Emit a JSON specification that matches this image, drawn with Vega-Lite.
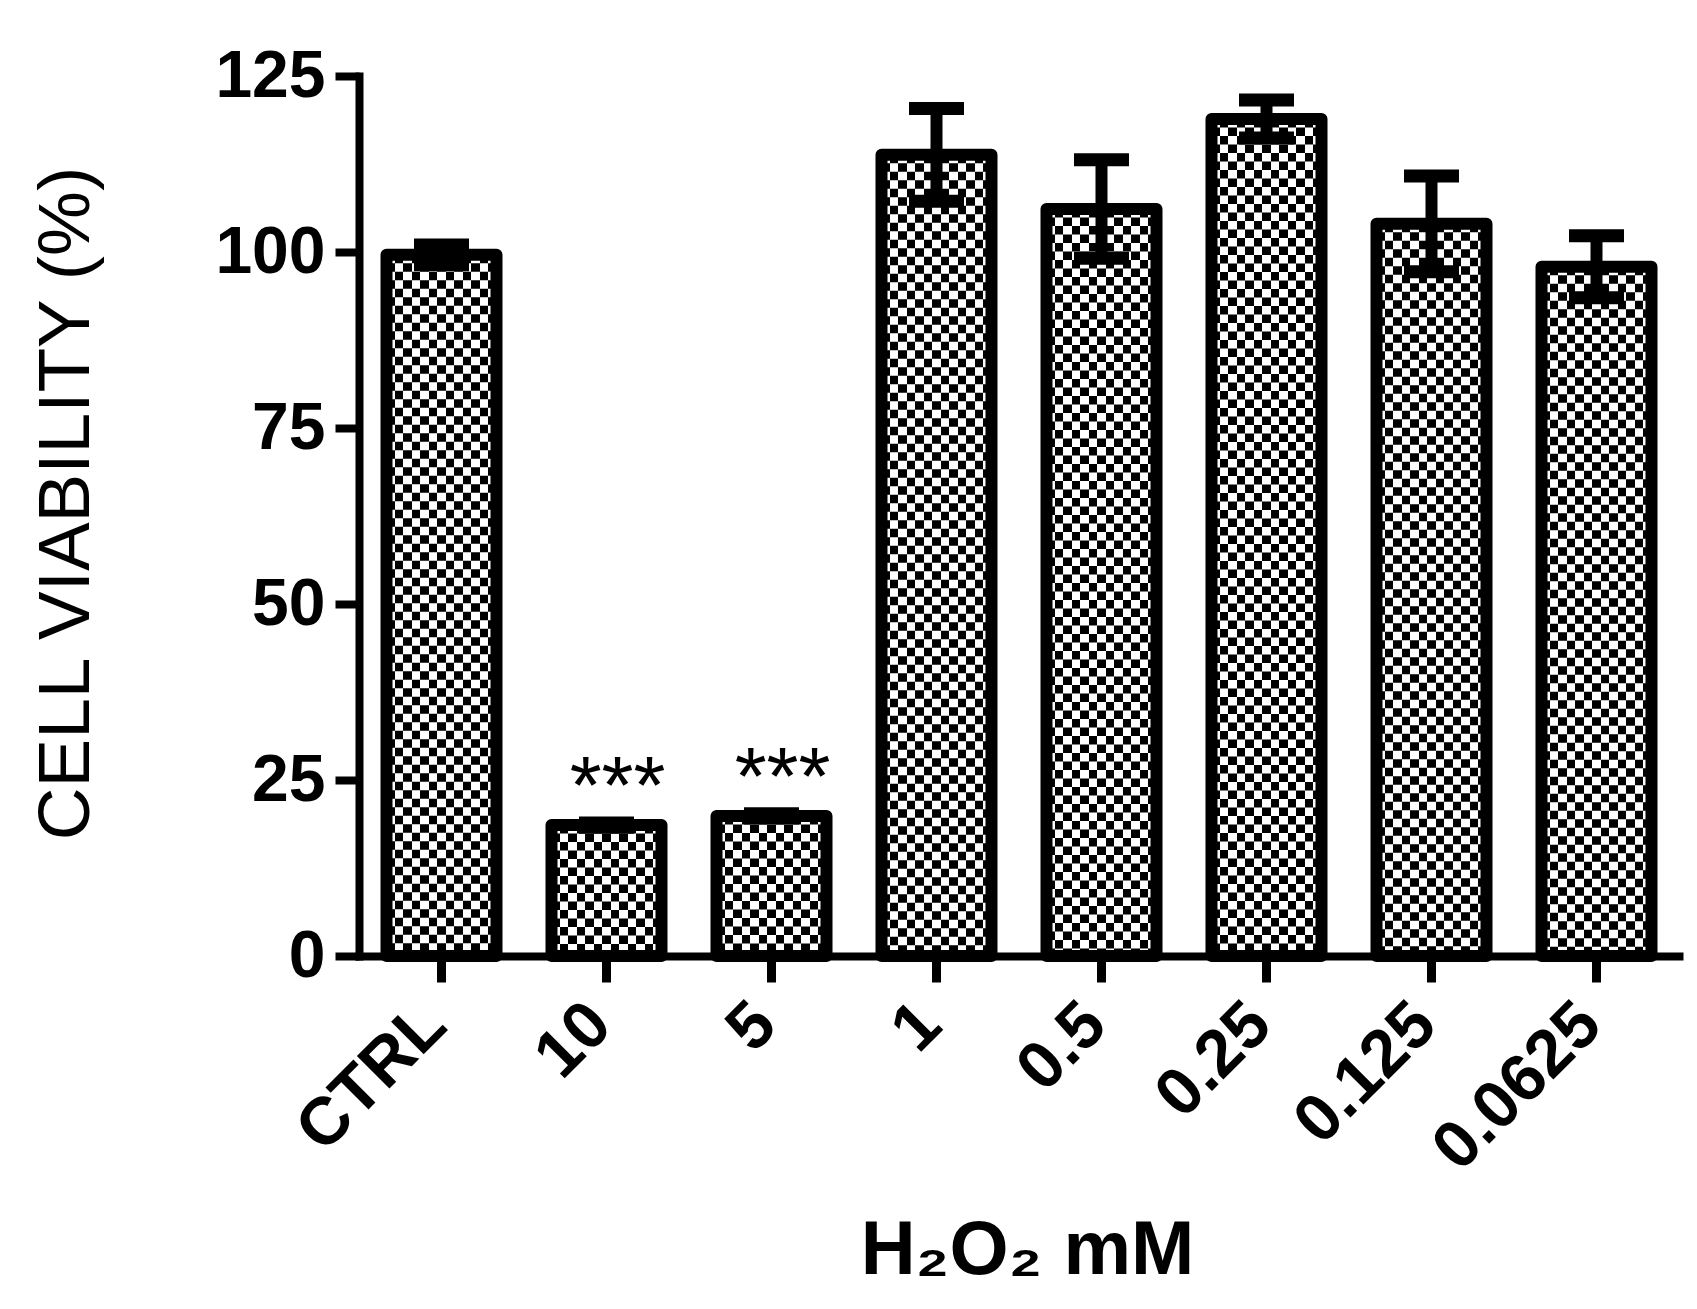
{
  "$schema": "https://vega.github.io/schema/vega-lite/v6.json",
  "autosize": {"type": "none"},
  "padding": {"left": 359, "top": 76, "right": 18, "bottom": 353},
  "width": 1320,
  "height": 880,
  "background": "white",
  "config": {
    "font": "Liberation Sans",
    "view": {"stroke": null},
    "axis": {"domainColor": "black", "tickColor": "black", "labelColor": "black", "titleColor": "black", "grid": false, "domainCap": "square"}
  },
  "data": {
    "values": [
      {"dose": "CTRL", "mean": 99.6, "lo": 98.2, "hi": 101.0, "sig": ""},
      {"dose": "10", "mean": 18.6, "lo": 18.3, "hi": 18.9, "sig": "***"},
      {"dose": "5", "mean": 19.9, "lo": 19.6, "hi": 20.2, "sig": "***"},
      {"dose": "1", "mean": 113.8, "lo": 107.2, "hi": 120.4, "sig": ""},
      {"dose": "0.5", "mean": 106.1, "lo": 99.1, "hi": 113.1, "sig": ""},
      {"dose": "0.25", "mean": 118.9, "lo": 116.2, "hi": 121.6, "sig": ""},
      {"dose": "0.125", "mean": 104.0, "lo": 97.2, "hi": 110.8, "sig": ""},
      {"dose": "0.0625", "mean": 97.9, "lo": 93.5, "hi": 102.3, "sig": ""}
    ]
  },
  "encoding": {
    "x": {
      "field": "dose",
      "type": "nominal",
      "sort": null,
      "scale": {"paddingInner": 0.3333333, "paddingOuter": 0.1666667},
      "axis": {
        "title": "H₂O₂ mM",
        "labelAngle": -45,
        "labelAlign": "right",
        "labelBaseline": "alphabetic",
        "labelPadding": 46,
        "labelOffset": 8,
        "labelLimit": 0,
        "labelFontSize": 67,
        "labelFontWeight": "bold",
        "tickSize": 26,
        "tickWidth": 9,
        "domainWidth": 8,
        "titleFontSize": 76,
        "titleFontWeight": "bold",
        "titleX": 668,
        "titleY": 317,
        "titleBaseline": "alphabetic",
        "titleAlign": "center"
      }
    }
  },
  "layer": [
    {
      "mark": {
        "type": "bar",
        "stroke": null,
        "fill": {
          "gradient": "linear",
          "x1": 0, "y1": 0, "x2": 1, "y2": 0,
          "stops": [
            {"offset": 0, "color": "black"}, {"offset": 0.076923, "color": "black"},
            {"offset": 0.076923, "color": "white"}, {"offset": 0.153846, "color": "white"},
            {"offset": 0.153846, "color": "black"}, {"offset": 0.230769, "color": "black"},
            {"offset": 0.230769, "color": "white"}, {"offset": 0.307692, "color": "white"},
            {"offset": 0.307692, "color": "black"}, {"offset": 0.384615, "color": "black"},
            {"offset": 0.384615, "color": "white"}, {"offset": 0.461538, "color": "white"},
            {"offset": 0.461538, "color": "black"}, {"offset": 0.538462, "color": "black"},
            {"offset": 0.538462, "color": "white"}, {"offset": 0.615385, "color": "white"},
            {"offset": 0.615385, "color": "black"}, {"offset": 0.692308, "color": "black"},
            {"offset": 0.692308, "color": "white"}, {"offset": 0.769231, "color": "white"},
            {"offset": 0.769231, "color": "black"}, {"offset": 0.846154, "color": "black"},
            {"offset": 0.846154, "color": "white"}, {"offset": 0.923077, "color": "white"},
            {"offset": 0.923077, "color": "black"}, {"offset": 1, "color": "black"}
          ]
        }
      },
      "encoding": {
        "y": {
          "field": "mean",
          "type": "quantitative",
          "scale": {"domain": [0, 125], "nice": false},
          "axis": {
            "values": [0, 25, 50, 75, 100, 125],
            "title": "CELL VIABILITY (%)",
            "labelFontSize": 66,
            "labelFontWeight": "bold",
            "labelPadding": 10,
            "labelFlush": false,
            "tickSize": 24,
            "tickWidth": 8,
            "domainWidth": 8,
            "titleFontSize": 73,
            "titleFontWeight": "normal",
            "titleAngle": -90,
            "titleX": -271,
            "titleY": 427,
            "titleBaseline": "alphabetic",
            "titleAlign": "center"
          }
        }
      }
    },
    {
      "mark": {"type": "rule", "stroke": "white", "strokeWidth": 110, "strokeCap": "butt", "strokeDash": [8.5, 8.5], "blend": "difference"},
      "encoding": {
        "y": {"field": "mean", "type": "quantitative"},
        "y2": {"datum": 0}
      }
    },
    {
      "mark": {"type": "bar", "fill": "transparent", "stroke": "black", "strokeWidth": 12, "strokeJoin": "round"},
      "encoding": {
        "y": {"field": "mean", "type": "quantitative"}
      }
    },
    {
      "mark": {"type": "rule", "color": "black", "strokeWidth": 12},
      "encoding": {
        "y": {"field": "lo", "type": "quantitative"},
        "y2": {"field": "hi"}
      }
    },
    {
      "mark": {"type": "tick", "color": "black", "size": 55, "thickness": 13, "orient": "horizontal", "opacity": 1},
      "encoding": {
        "y": {"field": "hi", "type": "quantitative"}
      }
    },
    {
      "mark": {"type": "tick", "color": "black", "size": 55, "thickness": 13, "orient": "horizontal", "opacity": 1},
      "encoding": {
        "y": {"field": "lo", "type": "quantitative"}
      }
    },
    {
      "mark": {"type": "text", "fontSize": 82, "fontWeight": "normal", "align": "center", "baseline": "alphabetic", "dx": 11, "dy": -12, "color": "black"},
      "encoding": {
        "y": {"field": "mean", "type": "quantitative"},
        "text": {"field": "sig"}
      }
    }
  ]
}
